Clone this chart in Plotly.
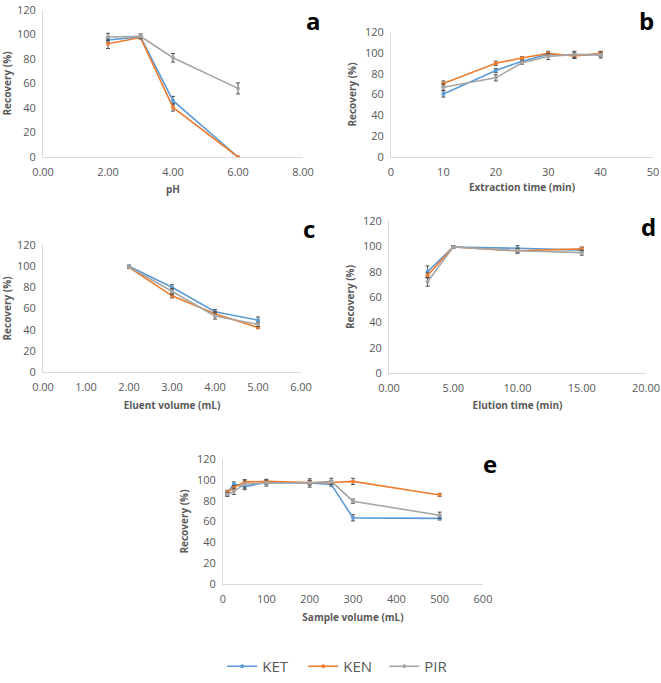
import plotly.graph_objects as go

# ---------------- data ----------------
series_names = ["KET", "KEN", "PIR"]
colors = {"KET": "#5B9BD5", "KEN": "#ED7D31", "PIR": "#A5A5A5"}

# a: pH
ph_x = [2, 3, 4, 6]
ph_KET = [95.5, 98, 46, 0]
ph_KEN = [92.5, 97.5, 40.5, 0]
ph_PIR = [98, 98.5, 81, 56]
ph_KET_err = [2, 1, 3.5, 0]
ph_KEN_err = [4, 1, 3, 0]
ph_PIR_err = [3, 2, 3.5, 4.5]

# b: extraction time
ext_x = [10, 20, 25, 30, 35, 40]
ext_KET = [60.5, 83, 92, 98.5, 97.5, 98.5]
ext_KEN = [70.5, 90, 95, 99.5, 97, 99.5]
ext_PIR = [67, 76, 90.5, 96.5, 98.5, 98]
ext_KET_err = [3, 2, 1.5, 2, 3, 2]
ext_KEN_err = [2.5, 2, 1.5, 2, 2, 2]
ext_PIR_err = [3, 3, 1.5, 3, 3, 3]

# c: eluent volume
elv_x = [2, 3, 4, 5]
elv_KET = [100, 80, 57, 49]
elv_KEN = [99, 72, 55, 42]
elv_PIR = [99.5, 76, 53, 45]
elv_KET_err = [1, 2.5, 2, 3]
elv_KEN_err = [1, 2, 2, 1]
elv_PIR_err = [1, 3, 3, 2]

# d: elution time
elt_x = [3, 5, 10, 15]
elt_KET = [80, 99.5, 98.5, 97]
elt_KEN = [77, 99.5, 96.5, 98]
elt_PIR = [72, 99.5, 96.5, 95]
elt_KET_err = [4.5, 1, 2, 2]
elt_KEN_err = [2, 1, 1.5, 1.5]
elt_PIR_err = [3.5, 1, 2, 2]

# e: sample volume
sv_x = [10, 25, 50, 100, 200, 250, 300, 500]
sv_KET = [87, 96, 93.5, 97.5, 97, 95.5, 63.5, 63]
sv_KEN = [88, 92.5, 98, 98.5, 97.5, 97.5, 98.5, 85.5]
sv_PIR = [86, 89, 96, 97, 97, 98.5, 79.5, 66]
sv_KET_err = [2, 2, 3, 2, 2, 2, 3, 1.5]
sv_KEN_err = [2, 2, 2, 2, 2, 2, 3, 1.5]
sv_PIR_err = [2, 3, 4, 3, 4, 3, 2, 3]

panels = [
    dict(key="a", x=ph_x, ys=[ph_KET, ph_KEN, ph_PIR], es=[ph_KET_err, ph_KEN_err, ph_PIR_err],
         title="pH", rng=[0, 8], dtick=2, fmt=".2f"),
    dict(key="b", x=ext_x, ys=[ext_KET, ext_KEN, ext_PIR], es=[ext_KET_err, ext_KEN_err, ext_PIR_err],
         title="Extraction time (min)", rng=[0, 50], dtick=10, fmt="d"),
    dict(key="c", x=elv_x, ys=[elv_KET, elv_KEN, elv_PIR], es=[elv_KET_err, elv_KEN_err, elv_PIR_err],
         title="Eluent volume (mL)", rng=[0, 6], dtick=1, fmt=".2f"),
    dict(key="d", x=elt_x, ys=[elt_KET, elt_KEN, elt_PIR], es=[elt_KET_err, elt_KEN_err, elt_PIR_err],
         title="Elution time (min)", rng=[0, 20], dtick=5, fmt=".2f"),
    dict(key="e", x=sv_x, ys=[sv_KET, sv_KEN, sv_PIR], es=[sv_KET_err, sv_KEN_err, sv_PIR_err],
         title="Sample volume (mL)", rng=[0, 600], dtick=100, fmt="d"),
]

W, H = 661, 683
# pixel boxes (x0, x1, ytop, ybottom)
boxes = {
    "a": (43, 303, 10, 157),
    "b": (391, 653, 32, 157),
    "c": (43, 301, 245, 372),
    "d": (389, 646, 221, 373),
    "e": (223, 483, 459, 584),
}
letters = {"a": (313, 20), "b": (646, 20), "c": (309, 228), "d": (648, 226), "e": (490, 463)}
xtitle_standoff = {"a": 7, "b": 5, "c": 8, "d": 7, "e": 8}

FONT = "Open Sans, Liberation Sans, sans-serif"
fig = go.Figure()
layout = {}
for i, p in enumerate(panels):
    n = "" if i == 0 else str(i + 1)
    x0, x1, yt, yb = boxes[p["key"]]
    for j, s in enumerate(series_names):
        fig.add_trace(go.Scatter(
            x=p["x"], y=p["ys"][j], name=s, mode="lines+markers",
            line=dict(color=colors[s], width=1.6),
            marker=dict(color=colors[s], size=4),
            error_y=dict(type="data", array=p["es"][j], color="#505050", thickness=1, width=2),
            xaxis="x" + n, yaxis="y" + n, showlegend=(i == 0),
        ))
    layout["xaxis" + n] = dict(
        domain=[x0 / W, x1 / W], range=p["rng"], dtick=p["dtick"], tick0=0,
        tickformat=p["fmt"], showline=True, linecolor="#d9d9d9", linewidth=1,
        showgrid=False, zeroline=False, ticks="", anchor="y" + n, ticklabelstandoff=5,
        tickfont=dict(family=FONT, size=11, color="#595959"),
        title=dict(text="<b>" + p["title"] + "</b>", font=dict(family=FONT, size=10, color="#595959"),
                   standoff=xtitle_standoff[p["key"]]),
    )
    layout["yaxis" + n] = dict(
        domain=[1 - yb / H, 1 - yt / H], range=[0, 120], dtick=20, showline=True,
        linecolor="#d9d9d9", linewidth=1, showgrid=False, zeroline=False, ticks="",
        anchor="x" + n, ticklabelstandoff=4,
        tickfont=dict(family=FONT, size=11, color="#595959"),
        title=dict(text="<b>Recovery (%)</b>", font=dict(family=FONT, size=10, color="#595959"), standoff=6),
    )

annotations = []
for k, (lx, ly) in letters.items():
    annotations.append(dict(text="<b>" + k + "</b>", x=lx / W, y=1 - ly / H, xref="paper", yref="paper",
                            showarrow=False, font=dict(family=FONT, size=24, color="black"),
                            xanchor="center", yanchor="middle"))

fig.update_layout(
    width=W, height=H, margin=dict(l=0, r=0, t=0, b=0, autoexpand=False),
    paper_bgcolor="white", plot_bgcolor="white",
    legend=dict(orientation="h", x=0.52, y=0, xanchor="center", yanchor="bottom",
                font=dict(family=FONT, size=15, color="#595959"), itemwidth=30,
                entrywidth=36, entrywidthmode="pixels", tracegroupgap=0),
    annotations=annotations,
    **layout,
)
fig.write_html("out.html")
